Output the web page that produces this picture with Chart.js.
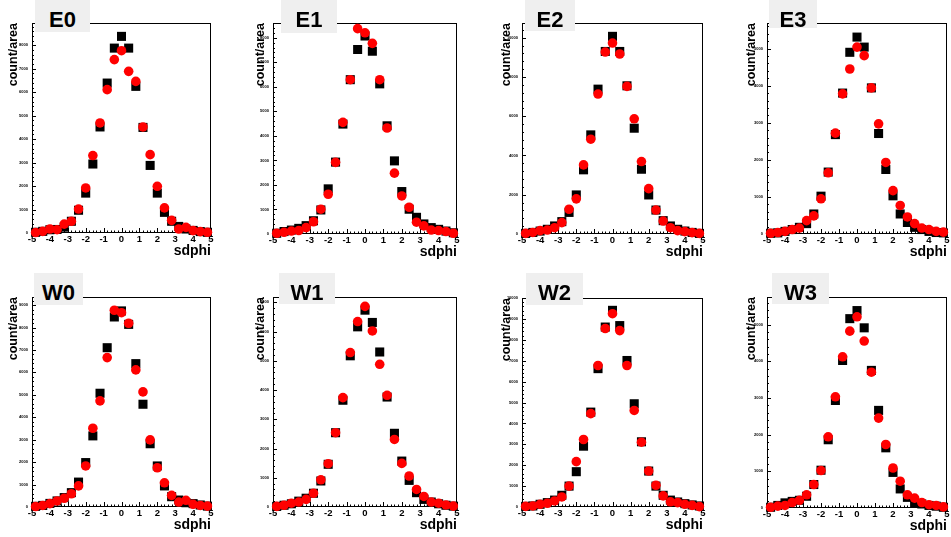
<!DOCTYPE html>
<html lang="en">
<head>
<meta charset="utf-8">
<title>sdphi count/area E0-E3, W0-W3</title>
<script src="https://cdn.jsdelivr.net/npm/chart.js@4.4.1/dist/chart.umd.min.js"></script>
<style>
  body {
    margin: 0;
    width: 951px;
    height: 537px;
    overflow: hidden;
    position: relative;
    background: #fff;
    font-family: "Liberation Sans", Arial, sans-serif;
  }
  .pad { position: absolute; }
  .tag {
    position: absolute;
    z-index: 2;
    background: #efefef;
    color: #000;
    font-weight: bold;
    font-size: 22px;
    line-height: 22px;
    text-align: center;
    box-sizing: border-box;
    padding-top: 9px;
  }
</style>
</head>
<body>
<script>
  // bin centres on sdphi
  const sdphi = [-4.8, -4.4, -4.0, -3.6, -3.2, -2.8, -2.4, -2.0, -1.6, -1.2, -0.8, -0.4, 0,
                 0.4, 0.8, 1.2, 1.6, 2.0, 2.4, 2.8, 3.2, 3.6, 4.0, 4.4, 4.8];

  const panelNames = ['E0', 'E1', 'E2', 'E3', 'W0', 'W1', 'W2', 'W3'];

  // black squares
  const e0Black = [30, 70, 140, 150, 250, 500, 970, 1700, 2940, 4520, 6390, 7880, 8380, 7880, 6250, 4500, 2880, 1700, 880, 500, 280, 170, 110, 60, 30];
  const e1Black = [30, 100, 160, 230, 340, 540, 980, 1840, 2930, 4480, 6290, 7520, 8070, 7450, 6120, 4410, 2980, 1730, 1010, 680, 410, 260, 190, 120, 50];
  const e2Black = [30, 80, 150, 240, 410, 630, 1100, 1990, 3270, 5050, 7380, 9300, 10070, 9300, 7550, 5390, 3300, 1990, 1220, 680, 410, 240, 150, 80, 30];
  const e3Black = [20, 30, 70, 120, 180, 280, 540, 1020, 1670, 2680, 3800, 4900, 5310, 5040, 3940, 2710, 1740, 1030, 540, 310, 180, 120, 70, 40, 30];
  const w0Black = [30, 70, 160, 270, 420, 640, 1110, 1980, 3170, 5070, 7100, 8470, 8740, 8140, 6390, 4580, 2820, 1830, 940, 460, 310, 190, 150, 90, 40];
  const w1Black = [20, 60, 110, 200, 300, 470, 890, 1460, 2540, 3650, 5170, 6160, 6730, 6310, 5300, 3760, 2520, 1570, 910, 490, 260, 170, 110, 60, 30];
  const w2Black = [30, 50, 130, 210, 330, 560, 1000, 1690, 2910, 4540, 6620, 8610, 9410, 8680, 7010, 4940, 3120, 1720, 1000, 560, 330, 240, 160, 100, 50];
  const w3Black = [20, 70, 140, 180, 210, 320, 640, 1030, 1860, 2930, 4020, 5160, 5380, 4910, 3750, 2660, 1640, 970, 520, 290, 140, 110, 70, 50, 20];

  // red circles
  const e0Red = [20, 70, 170, 140, 380, 500, 1020, 1920, 3300, 4690, 6110, 7390, 7770, 6890, 6460, 4520, 3340, 1990, 1070, 540, 170, 240, 100, 60, 30];
  const e1Red = [30, 70, 120, 140, 260, 500, 1010, 1620, 2920, 4550, 6290, 8370, 8200, 7770, 6290, 4320, 2480, 1550, 1090, 480, 330, 160, 140, 100, 30];
  const e2Red = [30, 80, 170, 200, 320, 580, 1260, 1790, 3520, 4830, 7130, 9270, 9730, 9170, 7520, 5870, 3690, 2310, 1220, 660, 320, 170, 120, 70, 30];
  const e3Red = [20, 40, 70, 120, 160, 360, 490, 950, 1650, 2720, 3780, 4450, 5040, 4810, 3940, 2970, 1930, 1170, 770, 460, 280, 160, 120, 70, 50];
  const w0Red = [20, 70, 150, 270, 390, 590, 940, 1830, 3510, 4730, 6660, 8770, 8660, 8190, 6110, 5130, 2990, 1750, 1080, 520, 220, 300, 120, 70, 40];
  const w1Red = [20, 60, 130, 170, 260, 470, 930, 1480, 2540, 3740, 5280, 6340, 6860, 6020, 4880, 3820, 2310, 1490, 1060, 600, 360, 170, 130, 70, 30];
  const w2Red = [30, 50, 130, 180, 290, 480, 1000, 2170, 3230, 4470, 6770, 8540, 9250, 8440, 6770, 4620, 3100, 1720, 1040, 530, 250, 210, 130, 80, 20];
  const w3Red = [20, 50, 70, 150, 210, 360, 640, 1020, 1940, 3030, 4120, 4820, 5210, 4550, 3700, 2450, 1730, 1090, 730, 360, 270, 150, 90, 70, 30];

  const blackSeries = [e0Black, e1Black, e2Black, e3Black, w0Black, w1Black, w2Black, w3Black];
  const redSeries = [e0Red, e1Red, e2Red, e3Red, w0Red, w1Red, w2Red, w3Red];

  // y axis range and label step per panel
  const yMaxes = [8950, 8600, 10750, 5690, 9360, 7180, 10000, 5750];
  const ySteps = [1000, 1000, 2000, 1000, 1000, 1000, 1000, 1000];

  // layout: plot frame [left, right, top, bottom], tag box [x, y, w, h], y title centre x
  const frames = [
    [32, 211, 23, 233], [273, 457, 23, 234], [522, 703, 23, 234], [767, 947, 23, 234],
    [32, 211, 297, 507], [273, 457, 297, 507], [522, 703, 298, 507], [767, 947, 297, 508]
  ];
  const tagBoxes = [
    [35, 0, 55, 32], [281, 0, 56, 33], [525, 0, 50, 31], [769, 0, 48, 28],
    [34, 273, 49, 32], [279, 273, 56, 31], [526, 273, 57, 32], [772, 273, 57, 31]
  ];
  const yTitleX = [14, 261, 507, 752, 14, 261, 507, 752];

  const FONT = '"Liberation Sans", Arial, sans-serif';
  const AXIS_W = 32, AXIS_H = 32, PAD_TOP = 10, PAD_RIGHT = 4;

  // ROOT-like frame with ticks pointing inwards
  const frameTicks = {
    id: 'frameTicks',
    beforeDatasetsDraw(chart, args, opts) {
      const {ctx, chartArea: a, scales: {x, y}} = chart;
      ctx.save();
      ctx.strokeStyle = '#000';
      ctx.lineWidth = 1;
      ctx.strokeRect(Math.round(a.left) + 0.5, Math.round(a.top) + 0.5,
                     Math.round(a.right - a.left) - 1, Math.round(a.bottom - a.top) - 1);
      ctx.beginPath();
      for (let i = 0; i <= 50; i++) {
        const px = Math.round(x.getPixelForValue(x.min + i * (x.max - x.min) / 50)) + 0.5;
        const len = i % 5 === 0 ? 5 : 2.5;
        ctx.moveTo(px, a.bottom);
        ctx.lineTo(px, a.bottom - len);
      }
      const minor = opts.step / 5;
      for (let k = 0; k * minor <= y.max; k++) {
        const py = Math.round(y.getPixelForValue(k * minor)) + 0.5;
        const len = k % 5 === 0 ? 4 : 2;
        ctx.moveTo(a.left, py);
        ctx.lineTo(a.left + len, py);
      }
      ctx.stroke();
      ctx.restore();
    }
  };

  panelNames.forEach((name, p) => {
    const [L, R, T, B] = frames[p];
    const wrap = document.createElement('div');
    wrap.className = 'pad';
    wrap.style.left = (L - AXIS_W) + 'px';
    wrap.style.top = (T - PAD_TOP) + 'px';
    const canvas = document.createElement('canvas');
    canvas.width = (R - L) + AXIS_W + PAD_RIGHT;
    canvas.height = (B - T) + PAD_TOP + AXIS_H;
    wrap.appendChild(canvas);
    document.body.appendChild(wrap);

    const [tx, ty, tw, th] = tagBoxes[p];
    const tag = document.createElement('div');
    tag.className = 'tag';
    tag.style.left = tx + 'px';
    tag.style.top = ty + 'px';
    tag.style.width = tw + 'px';
    tag.style.height = th + 'px';
    tag.textContent = name;
    document.body.appendChild(tag);

    const step = ySteps[p];

    new Chart(canvas, {
      type: 'scatter',
      data: {
        datasets: [
          {
            label: name + ' red',
            data: sdphi.map((v, j) => ({x: v, y: redSeries[p][j]})),
            pointStyle: 'circle',
            pointRadius: 4.8,
            pointHoverRadius: 4.8,
            backgroundColor: '#ff0000',
            borderWidth: 0,
            order: 0,
            clip: false
          },
          {
            label: name + ' black',
            data: sdphi.map((v, j) => ({x: v, y: blackSeries[p][j]})),
            pointStyle: 'rect',
            pointRadius: 6.4,
            pointHoverRadius: 6.4,
            backgroundColor: '#000000',
            borderWidth: 0,
            order: 1,
            clip: false
          }
        ]
      },
      options: {
        responsive: false,
        animation: false,
        events: [],
        layout: {
          autoPadding: false,
          padding: {left: 0, top: PAD_TOP, right: PAD_RIGHT, bottom: 0}
        },
        plugins: {
          legend: {display: false},
          tooltip: {enabled: false},
          frameTicks: {step: step}
        },
        scales: {
          x: {
            type: 'linear',
            min: -5,
            max: 5,
            afterFit: s => { s.height = AXIS_H; },
            grid: {display: false, drawTicks: false},
            border: {display: false},
            ticks: {
              stepSize: 1,
              autoSkip: false,
              maxRotation: 0,
              padding: 1,
              color: '#000',
              font: {family: FONT, weight: 'bold', size: 9.5}
            },
            title: {
              display: true,
              text: 'sdphi',
              align: 'end',
              color: '#000',
              font: {family: FONT, weight: 'bold', size: 14, lineHeight: 1},
              padding: {top: 0, bottom: 7}
            }
          },
          y: {
            type: 'linear',
            min: 0,
            max: yMaxes[p],
            afterFit: s => { s.width = AXIS_W; },
            afterBuildTicks: s => {
              const t = [];
              for (let v = 0; v <= s.max; v += step) t.push({value: v});
              s.ticks = t;
            },
            grid: {display: false, drawTicks: false},
            border: {display: false},
            ticks: {
              autoSkip: false,
              padding: 4,
              color: '#000',
              font: {family: FONT, weight: 'bold', size: 4},
              callback: v => String(v)
            },
            title: {
              display: true,
              text: 'count/area',
              align: 'end',
              color: '#000',
              font: {family: FONT, weight: 'bold', size: 12.5, lineHeight: 1},
              padding: {top: yTitleX[p] - (L - AXIS_W) - 6.25, bottom: 0}
            }
          }
        }
      },
      plugins: [frameTicks]
    });
  });
</script>
</body>
</html>
